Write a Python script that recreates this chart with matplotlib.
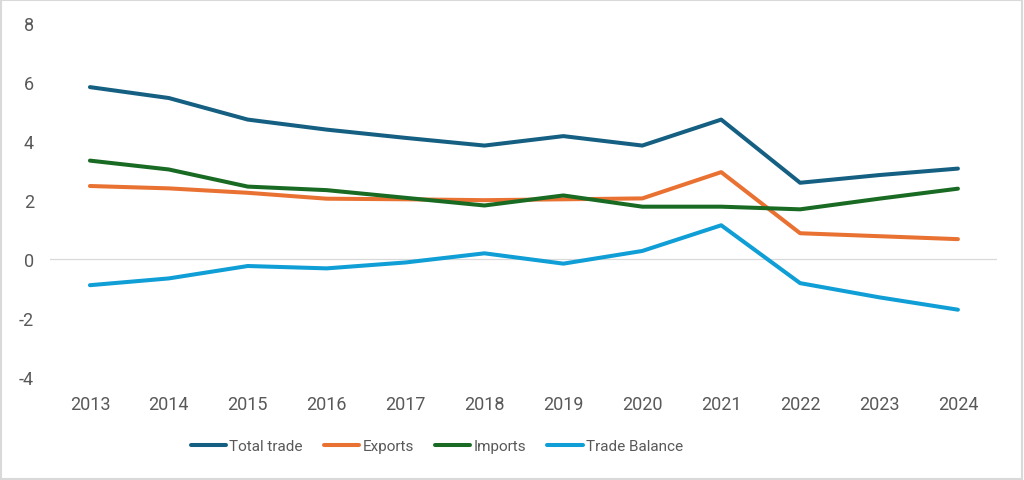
import matplotlib.pyplot as plt
from matplotlib.patches import Rectangle

years = [2013, 2014, 2015, 2016, 2017, 2018, 2019, 2020, 2021, 2022, 2023, 2024]
total_trade = [5.83, 5.46, 4.73, 4.39, 4.11, 3.85, 4.17, 3.85, 4.73, 2.59, 2.85, 3.07]
exports = [2.48, 2.40, 2.25, 2.05, 2.03, 2.00, 2.03, 2.06, 2.95, 0.88, 0.78, 0.68]
imports = [3.34, 3.04, 2.46, 2.34, 2.08, 1.82, 2.16, 1.78, 1.78, 1.69, 2.05, 2.39]
trade_balance = [-0.88, -0.65, -0.23, -0.31, -0.11, 0.20, -0.15, 0.28, 1.15, -0.81, -1.29, -1.71]

plt.rcParams['font.family'] = ['Roboto', 'DejaVu Sans']
plt.rcParams['axes.unicode_minus'] = False

fig = plt.figure(figsize=(10.24, 4.81), dpi=100)
ax = fig.add_axes([0.0493, 0.2135, 0.9247, 0.7365])

x = list(range(len(years)))
series = [
    ("Total trade", total_trade, '#156082'),
    ("Exports", exports, '#E97132'),
    ("Imports", imports, '#196B24'),
    ("Trade Balance", trade_balance, '#0F9ED5'),
]
ax.axhline(0, color='#D9D9D9', linewidth=0.9, zorder=1)
for name, vals, col in series:
    ax.plot(x, vals, color=col, linewidth=2.9, label=name,
            solid_capstyle='round', solid_joinstyle='round', zorder=3)

ax.set_xlim(-0.5, len(years) - 0.5)
ax.set_ylim(-4, 8)
ax.set_yticks([-4, -2, 0, 2, 4, 6, 8])
ax.set_xticks(x)
ax.set_xticklabels([str(y) for y in years])
ax.tick_params(axis='both', length=0, labelsize=13, colors='#595959')
ax.tick_params(axis='x', pad=13)
ax.tick_params(axis='y', pad=12)
for s in ax.spines.values():
    s.set_visible(False)

leg = fig.legend(loc='center', bbox_to_anchor=(437 / 1024, 1 - 447 / 481), ncol=4,
                 frameon=False, fontsize=11,
                 handlelength=2.3, handletextpad=0.2, columnspacing=1.4)
for t in leg.get_texts():
    t.set_color('#595959')

fig.patches.append(Rectangle((0.001, 0.002), 0.997, 0.995, transform=fig.transFigure,
                             fill=False, edgecolor='#D9D9D9', linewidth=1.5))

fig.savefig('out.png', dpi=100)
